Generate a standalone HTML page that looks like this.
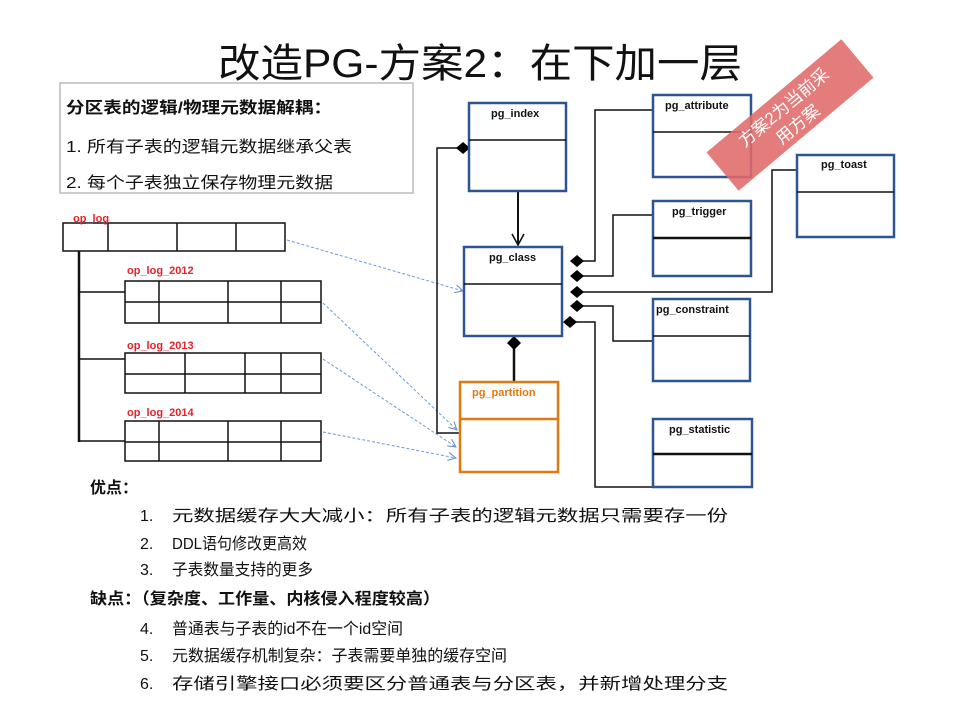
<!DOCTYPE html>
<html><head><meta charset="utf-8"><style>
html,body{margin:0;padding:0;background:#fff;}
svg{display:block;}
text{font-family:"Liberation Sans","Noto Sans CJK SC",sans-serif;}
</style></head><body>
<svg width="960" height="720" viewBox="0 0 960 720" xmlns="http://www.w3.org/2000/svg">
<defs>
<marker id="oa" markerWidth="10" markerHeight="10" refX="9" refY="5" orient="auto" markerUnits="userSpaceOnUse"><path d="M1,1 L9,5 L1,9" fill="none" stroke="#5b8fd0" stroke-width="1"/></marker>
<marker id="ba" markerWidth="14" markerHeight="14" refX="12" refY="7" orient="auto" markerUnits="userSpaceOnUse"><path d="M1,1 L12,7 L1,13" fill="none" stroke="#111" stroke-width="1.6"/></marker>
</defs>
<rect width="960" height="720" fill="#fff"/>
<text x="480" y="77" font-size="40" text-anchor="middle" fill="#111" textLength="524" lengthAdjust="spacingAndGlyphs">改造PG-方案2：在下加一层</text>

<!-- info box -->
<rect x="60" y="83" width="353" height="110" fill="#fff" stroke="#bbb" stroke-width="1.5"/>
<text x="66" y="113" font-size="16" font-weight="bold" fill="#111" textLength="266" lengthAdjust="spacingAndGlyphs">分区表的逻辑/物理元数据解耦：</text>
<text x="66" y="152" font-size="16" fill="#111" textLength="286" lengthAdjust="spacingAndGlyphs">1. 所有子表的逻辑元数据继承父表</text>
<text x="66" y="188" font-size="16" fill="#111" textLength="267" lengthAdjust="spacingAndGlyphs">2. 每个子表独立保存物理元数据</text>

<!-- op_log tables -->
<g stroke="#111" stroke-width="1.5" fill="none">
<rect x="63" y="223" width="222" height="28"/>
<line x1="108" y1="223" x2="108" y2="251"/><line x1="177" y1="223" x2="177" y2="251"/><line x1="236" y1="223" x2="236" y2="251"/>
<line x1="79" y1="251" x2="79" y2="442" stroke-width="2.5"/>
<line x1="79" y1="292" x2="125" y2="292"/><line x1="79" y1="359" x2="125" y2="359"/><line x1="79" y1="441" x2="125" y2="441"/>
<rect x="125" y="281" width="196" height="42"/><line x1="125" y1="302" x2="321" y2="302"/>
<line x1="159" y1="281" x2="159" y2="323"/><line x1="228" y1="281" x2="228" y2="323"/><line x1="281" y1="281" x2="281" y2="323"/>
<rect x="125" y="353" width="196" height="40"/><line x1="125" y1="374" x2="321" y2="374"/>
<line x1="185" y1="353" x2="185" y2="393"/><line x1="245" y1="353" x2="245" y2="393"/><line x1="281" y1="353" x2="281" y2="393"/>
<rect x="125" y="421" width="196" height="40"/><line x1="125" y1="442" x2="321" y2="442"/>
<line x1="159" y1="421" x2="159" y2="461"/><line x1="228" y1="421" x2="228" y2="461"/><line x1="281" y1="421" x2="281" y2="461"/>
</g>
<g font-size="11" font-weight="bold" fill="#e8212a">
<text x="73" y="222">op_log</text>
<text x="127" y="274">op_log_2012</text>
<text x="127" y="349">op_log_2013</text>
<text x="127" y="416">op_log_2014</text>
</g>

<!-- dashed arrows -->
<g stroke="#6a9ad6" stroke-width="1" stroke-dasharray="3,2" fill="none" marker-end="url(#oa)">
<line x1="287" y1="240" x2="463" y2="291"/>
<line x1="323" y1="303" x2="457" y2="430"/>
<line x1="323" y1="359" x2="456" y2="447"/>
<line x1="323" y1="432" x2="456" y2="458"/>
</g>

<!-- connectors -->
<g stroke="#111" stroke-width="1.5" fill="none">
<polyline points="463,148 437,148 437,433 460,433"/>
<line x1="518" y1="191" x2="518" y2="245" marker-end="url(#ba)" stroke-width="2"/>
<line x1="514" y1="343" x2="514" y2="382" stroke-width="2.5"/>
<polyline points="580,261 595,261 595,110 653,110"/>
<polyline points="580,276 613,276 613,215 653,215"/>
<polyline points="580,292 772,292 772,170 797,170"/>
<polyline points="580,306 613,306 613,341 653,341"/>
<polyline points="574,322 595,322 595,487 653,487"/>
</g>
<g fill="#000">
<path d="M456,148 L463,142 L470,148 L463,154Z"/>
<path d="M570,261 L577,255 L584,261 L577,267Z"/>
<path d="M570,276 L577,270 L584,276 L577,282Z"/>
<path d="M570,292 L577,286 L584,292 L577,298Z"/>
<path d="M570,306 L577,300 L584,306 L577,312Z"/>
<path d="M563,322 L570,316 L577,322 L570,328Z"/>
<path d="M507,343 L514,336 L521,343 L514,350Z"/>
</g>

<!-- class boxes -->
<g fill="#fff" stroke="#2f5590" stroke-width="2.5">
<rect x="469" y="103" width="97" height="88"/>
<rect x="464" y="247" width="98" height="89"/>
<rect x="653" y="95" width="98" height="82"/>
<rect x="797" y="155" width="97" height="82"/>
<rect x="653" y="201" width="98" height="75"/>
<rect x="653" y="299" width="97" height="82"/>
<rect x="653" y="419" width="99" height="68"/>
</g>
<rect x="460" y="382" width="98" height="90" fill="#fff" stroke="#e07a10" stroke-width="2.5"/>
<g stroke="#111" stroke-width="1.5">
<line x1="469" y1="140" x2="566" y2="140"/>
<line x1="464" y1="284" x2="562" y2="284"/>
<line x1="653" y1="132" x2="751" y2="132"/>
<line x1="797" y1="192" x2="894" y2="192"/>
<line x1="653" y1="238" x2="751" y2="238" stroke-width="2.5"/>
<line x1="653" y1="336" x2="750" y2="336"/>
<line x1="653" y1="454" x2="752" y2="454" stroke-width="2.5"/>
</g>
<line x1="460" y1="419" x2="558" y2="419" stroke="#e07a10" stroke-width="2.5"/>
<g font-size="11" font-weight="bold" fill="#111">
<text x="491" y="117">pg_index</text>
<text x="489" y="261">pg_class</text>
<text x="665" y="109">pg_attribute</text>
<text x="821" y="168">pg_toast</text>
<text x="672" y="215">pg_trigger</text>
<text x="656" y="313">pg_constraint</text>
<text x="669" y="433">pg_statistic</text>
<text x="472" y="396" fill="#e07a10">pg_partition</text>
</g>

<!-- banner -->
<g transform="translate(790,115) rotate(-40)">
<rect x="-88" y="-25" width="176" height="50" fill="#e06a6a" opacity="0.88"/>
<text x="0" y="-4" font-size="17" fill="#fff" text-anchor="middle">方案2为当前采</text>
<text x="0" y="18" font-size="17" fill="#fff" text-anchor="middle">用方案</text>
</g>

<!-- bottom text -->
<g font-size="16" fill="#111">
<text x="90" y="493" font-weight="bold">优点：</text>
<text x="140" y="521">1.</text><text x="172" y="521" textLength="556" lengthAdjust="spacingAndGlyphs">元数据缓存大大减小：所有子表的逻辑元数据只需要存一份</text>
<text x="140" y="549">2.</text><text x="172" y="549" textLength="135" lengthAdjust="spacingAndGlyphs">DDL语句修改更高效</text>
<text x="140" y="575">3.</text><text x="172" y="575" textLength="141" lengthAdjust="spacingAndGlyphs">子表数量支持的更多</text>
<text x="90" y="604" font-weight="bold" textLength="350" lengthAdjust="spacingAndGlyphs">缺点：（复杂度、工作量、内核侵入程度较高）</text>
<text x="140" y="634">4.</text><text x="172" y="634" textLength="231" lengthAdjust="spacingAndGlyphs">普通表与子表的id不在一个id空间</text>
<text x="140" y="661">5.</text><text x="172" y="661" textLength="335" lengthAdjust="spacingAndGlyphs">元数据缓存机制复杂：子表需要单独的缓存空间</text>
<text x="140" y="689">6.</text><text x="172" y="689" textLength="556" lengthAdjust="spacingAndGlyphs">存储引擎接口必须要区分普通表与分区表，并新增处理分支</text>
</g>
</svg>
</body></html>
